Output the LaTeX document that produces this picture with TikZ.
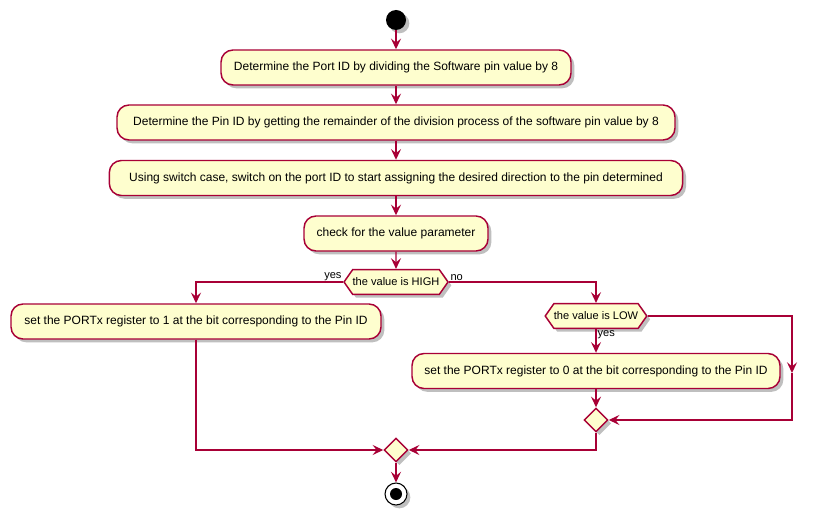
\documentclass[tikz,border=0pt]{standalone}
\usepackage{fontspec}
\setmainfont{Liberation Sans}
\usetikzlibrary{arrows.meta,shapes.geometric,shapes.symbols,shadows}
\definecolor{pcrim}{HTML}{A80036}
\definecolor{pfill}{HTML}{FEFECE}
\begin{document}
\begin{tikzpicture}[x=0.75pt,y=-0.75pt,
  shd/.style={drop shadow={shadow xshift=2.5pt,shadow yshift=-2.5pt,opacity=0.25,fill=black}},
  act/.style={draw=pcrim,fill=pfill,line width=1.1pt,rounded corners=9pt,minimum height=26.25pt,inner sep=0pt,font=\fontsize{9}{11}\selectfont,shd},
  hexa/.style={signal,signal to=west and east,signal pointer angle=110,draw=pcrim,fill=pfill,line width=1.1pt,inner xsep=0pt,inner ysep=5pt,minimum height=18.5pt,font=\fontsize{8.3}{10}\selectfont,shd},
  merge/.style={diamond,draw=pcrim,fill=pfill,line width=1.1pt,minimum width=18pt,minimum height=18pt,inner sep=0pt,shd},
  conn/.style={draw=pcrim,line width=1.1pt},
  arr/.style={conn,-{Stealth[length=8pt,width=7.5pt,inset=3pt]}},
  lbl/.style={font=\fontsize{8.3}{10}\selectfont,inner sep=1pt}]
\useasboundingbox (0,0) rectangle (816,520);
\node[circle,fill=black,minimum size=15pt,inner sep=0pt,shd] (start) at (396,20) {};
\node[act,minimum width=262.5pt] (b1) at (396,67.5) {Determine the Port ID by dividing the Software pin value by 8};
\node[act,minimum width=418.5pt] (b2) at (396,122.5) {Determine the Pin ID by getting the remainder of the division process of the software pin value by 8};
\node[act,minimum width=430pt] (b3) at (396,178) {Using switch case, switch on the port ID to start assigning the desired direction to the pin determined};
\node[act,minimum width=138pt] (b4) at (396,233.5) {check for the value parameter};
\node[hexa] (high) at (396,282) {the value is HIGH};
\node[act,minimum width=277.5pt] (lbox) at (196,321.5) {set the PORTx register to 1 at the bit corresponding to the Pin ID};
\node[hexa] (low) at (596,316) {the value is LOW};
\node[act,minimum width=276pt] (rbox) at (596,371) {set the PORTx register to 0 at the bit corresponding to the Pin ID};
\node[merge] (m2) at (596,420) {};
\node[merge] (m1) at (396,450) {};
\node[circle,draw=black,fill=white,line width=0.8pt,minimum size=16.5pt,inner sep=0pt,shd] (stop) at (396,494) {};
\node[circle,fill=black,minimum size=9pt,inner sep=0pt] (stopin) at (stop.center) {};
\coordinate (c1) at (792,316);
\coordinate (cm) at (792,373);
\coordinate (c2) at (792,420);
\draw[arr] (start) -- (b1);
\draw[arr] (b1) -- (b2);
\draw[arr] (b2) -- (b3);
\draw[arr] (b3) -- (b4);
\draw[arr] (b4) -- (high);
\draw[arr] (high.west) -| (lbox.north);
\draw[arr] (high.east) -| (low.north);
\node[lbl,anchor=south east] (yes1) at (high.west) {yes};
\node[lbl,anchor=south west] (no1) at (high.east) {no};
\draw[arr] (low.south) -- (rbox.north);
\node[lbl,anchor=north west] (yes2) at (low.south) {yes};
\draw[arr] (low.east) -- (c1) -- (cm);
\draw[arr] (cm) -- (c2) -- (m2.east);
\draw[arr] (rbox.south) -- (m2.north);
\draw[arr] (m2.south) |- (m1.east);
\draw[arr] (lbox.south) |- (m1.west);
\draw[arr] (m1.south) -- (stop.north);
\end{tikzpicture}
\end{document}
